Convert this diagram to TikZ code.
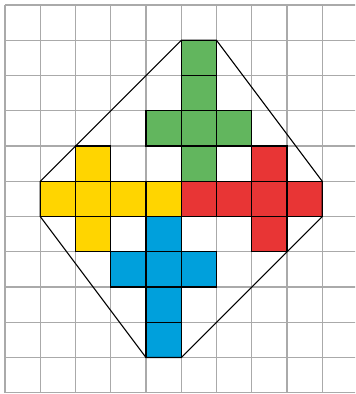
\documentclass[tikz,border=0pt]{standalone}
\definecolor{cgreen}{RGB}{98,182,94}
\definecolor{cyellow}{RGB}{255,213,0}
\definecolor{cred}{RGB}{232,53,53}
\definecolor{cblue}{RGB}{0,160,220}
\definecolor{gridgray}{RGB}{170,170,170}
\tikzset{
  gridline/.style={gridgray, line width=1.1pt},
  cellbox/.style={draw=black, line width=1.1pt},
  outline/.style={black, line width=0.9pt, line join=miter},
}
\newcommand{\cellat}[3]{\filldraw[cellbox, fill=#1] (#2,10-#3) rectangle ++(1,1);}
\begin{document}
\begin{tikzpicture}
\useasboundingbox (-0.142,-0.034) rectangle (9.929,11.143);
\begin{scope}
\clip (-0.142,-0.034) rectangle (9.929,11.143);
\draw[gridline] (0,0) grid (10,11);
\end{scope}
% green
\foreach \c/\r in {5/1,5/2,5/3,5/4,4/3,6/3} {\cellat{cgreen}{\c}{\r}}
% red
\foreach \c/\r in {5/5,6/5,7/5,8/5,7/4,7/6} {\cellat{cred}{\c}{\r}}
% yellow
\foreach \c/\r in {1/5,2/5,3/5,4/5,2/4,2/6} {\cellat{cyellow}{\c}{\r}}
% blue
\foreach \c/\r in {4/6,4/7,4/8,4/9,3/7,5/7} {\cellat{cblue}{\c}{\r}}
% outline
\coordinate (p1) at (5,10);
\coordinate (p2) at (6,10);
\coordinate (p3) at (9,6);
\coordinate (p4) at (9,5);
\coordinate (p5) at (5,1);
\coordinate (p6) at (4,1);
\coordinate (p7) at (1,5);
\coordinate (p8) at (1,6);
\draw[outline] (p1) -- (p2) -- (p3) -- (p4) -- (p5) -- (p6) -- (p7) -- (p8) -- cycle;
\end{tikzpicture}
\end{document}
